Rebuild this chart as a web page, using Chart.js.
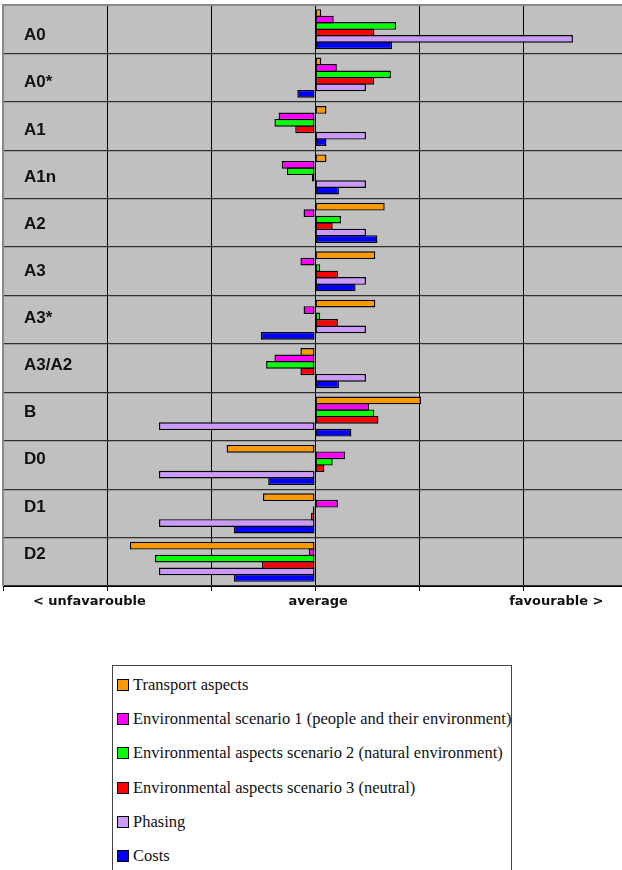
<!DOCTYPE html>
<html>
<head>
<meta charset="utf-8">
<script src="https://cdn.jsdelivr.net/npm/chart.js@4/dist/chart.umd.min.js"></script>
<style>
  html, body { margin: 0; padding: 0; background: #fff; overflow: hidden; }
  body { width: 622px; height: 870px; position: relative; }
  #wrap { position: absolute; left: 0; top: 0; width: 630px; height: 620px; }
  #legend {
    position: absolute; left: 112px; top: 665px; width: 400px; height: 230px;
    border: 1.5px solid #444; background: #fff; box-sizing: border-box;
    font-family: "Liberation Serif", "Times New Roman", serif; font-size: 16.5px; color: #111;
  }
  .item { position: absolute; left: 4px; height: 20px; display: flex; align-items: center; white-space: nowrap; }
  .swatch { width: 10px; height: 10px; border: 1.5px solid #000; margin-right: 4px; flex: none; }
</style>
</head>
<body>
<div id="wrap"><canvas id="chart"></canvas></div>
<div id="legend"></div>
<script>
// Options compared, top to bottom
const categories = ['A0', 'A0*', 'A1', 'A1n', 'A2', 'A3', 'A3*', 'A3/A2', 'B', 'D0', 'D1', 'D2'];

// Scores relative to the average (0); one grid step = one unit
const transport  = [0.06, 0.06, 0.11, 0.11, 0.67, 0.58, 0.58, -0.14, 1.02, -0.85, -0.50, -1.78];
const envPeople  = [0.18, 0.21, -0.35, -0.32, -0.11, -0.14, -0.11, -0.39, 0.52, 0.29, 0.22, -0.06];
const envNature  = [0.78, 0.73, -0.39, -0.27, 0.25, 0.05, 0.05, -0.47, 0.57, 0.17, -0.02, -1.54];
const envNeutral = [0.57, 0.57, -0.19, -0.03, 0.17, 0.22, 0.22, -0.14, 0.61, 0.09, -0.04, -0.51];
const phasing    = [2.48, 0.49, 0.49, 0.49, 0.49, 0.49, 0.49, 0.49, -1.50, -1.50, -1.50, -1.50];
const costs      = [0.74, -0.17, 0.11, 0.23, 0.60, 0.39, -0.52, 0.23, 0.35, -0.45, -0.78, -0.78];

const seriesNames = [
  'Transport aspects',
  'Environmental scenario 1 (people and their environment)',
  'Environmental aspects scenario 2 (natural environment)',
  'Environmental aspects scenario 3 (neutral)',
  'Phasing',
  'Costs'
];
const seriesColors = ['#ff9900', '#ff00ff', '#00ff00', '#ff0000', '#cc99ff', '#0000ff'];
const seriesValues = [transport, envPeople, envNature, envNeutral, phasing, costs];

// Verbal scale under the axis and where each phrase sits on it
const axisLabels = ['< unfavarouble', 'average', 'favourable >'];
const axisLabelTicks = [-2.17, 0.03, 2.32];

// Collapse an axis so it takes no room beside the plot
function noRoom(axis) {
  if (axis.isHorizontal()) { axis.paddingLeft = 0; axis.paddingRight = 0; }
  else { axis.width = 0; axis.paddingTop = 0; axis.paddingBottom = 0; }
}

const plotBackground = {
  id: 'plotBackground',
  beforeDraw(chart) {
    const { ctx, chartArea: a } = chart;
    ctx.save();
    ctx.fillStyle = '#c0c0c0';
    ctx.fillRect(a.left, a.top, a.right - a.left, a.bottom - a.top);
    ctx.restore();
  },
  afterDatasetsDraw(chart) {
    const { ctx, chartArea: a } = chart;
    ctx.save();
    ctx.strokeStyle = '#8a8a8a';
    ctx.lineWidth = 2;
    ctx.beginPath();
    ctx.moveTo(a.left, a.bottom);
    ctx.lineTo(a.left, a.top);
    ctx.lineTo(a.right, a.top);
    ctx.stroke();
    ctx.restore();
  }
};

const chart = new Chart(document.getElementById('chart'), {
  type: 'bar',
  data: {
    labels: categories,
    datasets: seriesValues.map((vals, i) => ({
      label: seriesNames[i],
      data: vals,
      backgroundColor: seriesColors[i],
      borderColor: '#000',
      borderWidth: 1.4,
      borderSkipped: false,
      categoryPercentage: 0.8,
      barPercentage: 1.2,
      xAxisID: 'x',
      yAxisID: 'y'
    }))
  },
  options: {
    indexAxis: 'y',
    responsive: true,
    maintainAspectRatio: false,
    animation: false,
    devicePixelRatio: 1,
    layout: { padding: { left: 3, right: 3, top: 5, bottom: 7.4 } },
    plugins: { legend: { display: false }, tooltip: { enabled: false } },
    scales: {
      x: {
        type: 'linear',
        position: 'bottom',
        min: -3,
        max: 3,
        offset: false,
        ticks: { stepSize: 1, display: false },
        grid: { color: '#000', lineWidth: 1, drawTicks: true, tickLength: 5 },
        border: { display: true, color: '#000', width: 1 },
        afterFit: noRoom
      },
      x2: {
        type: 'linear',
        position: 'bottom',
        min: -3,
        max: 3,
        offset: false,
        afterBuildTicks(axis) { axis.ticks = axisLabelTicks.map(v => ({ value: v })); },
        ticks: {
          autoSkip: false,
          maxRotation: 0,
          padding: 3,
          color: '#111',
          font: { family: 'DejaVu Sans', size: 13, weight: 'bold' },
          callback: (v, i) => axisLabels[i]
        },
        grid: { display: false, drawTicks: false },
        border: { display: false },
        afterFit: noRoom
      },
      y: {
        type: 'category',
        position: 'left',
        offset: true,
        ticks: { display: false },
        grid: {
          offset: true,
          drawTicks: false,
          color: ctx => (ctx.index === 0 ? '#8a8a8a' : '#303030'),
          lineWidth: 1.2
        },
        border: { display: false },
        afterFit: noRoom
      },
      yLabels: {
        type: 'linear',
        position: 'left',
        reverse: true,
        offset: false,
        min: -0.65,
        max: 11.68,
        afterBuildTicks(axis) { axis.ticks = categories.map((c, i) => ({ value: i })); },
        ticks: {
          mirror: true,
          padding: 21,
          autoSkip: false,
          color: '#111',
          font: { family: 'Liberation Sans', size: 17, weight: 'bold' },
          callback: v => categories[v]
        },
        grid: { display: false, drawTicks: false },
        border: { display: false },
        afterFit: noRoom
      }
    }
  },
  plugins: [plotBackground]
});

// Legend list built from the chart's own datasets
const legend = document.getElementById('legend');
chart.data.datasets.forEach((ds, i) => {
  const row = document.createElement('div');
  row.className = 'item';
  row.style.top = (9 + i * 34.2) + 'px';
  const sw = document.createElement('span');
  sw.className = 'swatch';
  sw.style.background = ds.backgroundColor;
  const tx = document.createElement('span');
  tx.textContent = ds.label;
  row.appendChild(sw);
  row.appendChild(tx);
  legend.appendChild(row);
});
</script>
</body>
</html>
